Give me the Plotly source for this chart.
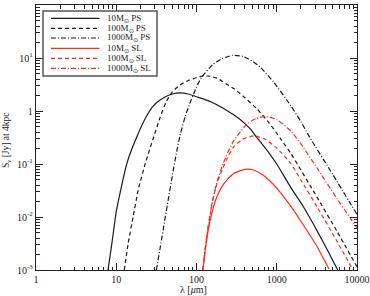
import plotly.graph_objects as go

# ---- data ----
wl_10_ps = [7.9, 8.9, 10, 11.5, 13.5, 15.8, 17.8, 20, 23.7, 28, 32, 40, 50, 63, 79, 100, 126, 158, 200, 250, 290, 350, 410, 480, 560, 790, 1000, 1480, 2140, 3160, 4470, 5750]
s_10_ps = [0.001, 0.0035, 0.0126, 0.035, 0.1, 0.2, 0.31, 0.47, 0.79, 1.17, 1.45, 1.82, 2.09, 2.19, 2.09, 1.86, 1.66, 1.45, 1.2, 0.98, 0.85, 0.69, 0.56, 0.44, 0.32, 0.166, 0.1, 0.037, 0.0158, 0.0056, 0.0021, 0.001]

wl_100_ps = [12.6, 14.1, 16.2, 19, 23.4, 28.8, 35, 42, 50, 62, 80, 110, 140, 180, 214, 300, 380, 560, 800, 1100, 1500, 3160, 5620, 10000]
s_100_ps = [0.001, 0.0032, 0.01, 0.035, 0.112, 0.30, 0.74, 1.51, 2.29, 3.09, 3.8, 4.47, 4.57, 4.17, 3.55, 2.57, 1.91, 1.12, 0.60, 0.31, 0.158, 0.024, 0.0054, 0.00115]

wl_1000_ps = [31.6, 35.5, 39.8, 44.7, 50, 56, 63, 72.4, 80, 100, 115, 158, 209, 282, 380, 510, 630, 910, 1480, 2000, 2570, 5000, 10000]
s_1000_ps = [0.001, 0.0028, 0.0079, 0.0224, 0.060, 0.158, 0.37, 0.79, 1.23, 2.82, 4.27, 7.4, 9.8, 11.2, 10.7, 8.5, 6.6, 3.55, 1.29, 0.63, 0.32, 0.063, 0.0112]

wl_10_sl = [120, 132, 145, 160, 178, 200, 240, 300, 400, 500, 630, 800, 1000, 1500, 2000, 3160, 4470]
s_10_sl = [0.001, 0.0032, 0.0076, 0.0141, 0.0234, 0.034, 0.05, 0.068, 0.079, 0.078, 0.066, 0.05, 0.035, 0.0158, 0.0083, 0.0028, 0.00105]

wl_100_sl = [120, 132, 145, 158, 178, 200, 240, 290, 380, 520, 700, 1000, 1500, 2000, 3160, 5620, 8900]
s_100_sl = [0.001, 0.0035, 0.0089, 0.02, 0.04, 0.066, 0.126, 0.21, 0.295, 0.34, 0.30, 0.2, 0.102, 0.05, 0.0158, 0.0035, 0.001]

wl_1000_sl = [120, 132, 145, 160, 178, 214, 250, 290, 340, 420, 550, 720, 1000, 1500, 2000, 3160, 5620, 10000]
s_1000_sl = [0.001, 0.0036, 0.0095, 0.021, 0.044, 0.1, 0.175, 0.27, 0.38, 0.56, 0.72, 0.79, 0.69, 0.42, 0.24, 0.085, 0.0224, 0.0062]

names = ["10M<sub>⊙</sub> PS", "100M<sub>⊙</sub> PS", "1000M<sub>⊙</sub> PS",
         "10M<sub>⊙</sub> SL", "100M<sub>⊙</sub> SL", "1000M<sub>⊙</sub> SL"]

x_tickvals = [1, 10, 100, 1000, 10000]
x_ticktext = ["1", "10", "100", "1000", "10000"]
y_tickvals = [1e-3, 1e-2, 1e-1, 1, 10, 100]
y_ticktext = ["10<sup>-3</sup>", "10<sup>-2</sup>", "10<sup>-1</sup>", "1", "10<sup>1</sup>", "10<sup>2</sup>"]

BLACK = "#1a1a1a"
RED = "#ff2a1a"
DASH = "4px,3px"
DASHDOT = "5px,2px,1px,2px"

series = [
    (wl_10_ps, s_10_ps, BLACK, "solid"),
    (wl_100_ps, s_100_ps, BLACK, DASH),
    (wl_1000_ps, s_1000_ps, BLACK, DASHDOT),
    (wl_10_sl, s_10_sl, RED, "solid"),
    (wl_100_sl, s_100_sl, RED, DASH),
    (wl_1000_sl, s_1000_sl, RED, DASHDOT),
]

# plot area in pixels (figure 370x296)
L, R, T, B = 36, 13, 5, 26
PW, PH = 370 - L - R, 296 - T - B


def px(xp):
    return (xp - L) / PW


def py(yp):
    return 1 - (yp - T) / PH


FONT = "Liberation Serif"
fig = go.Figure()
for (x, y, c, d), n in zip(series, names):
    fig.add_trace(go.Scatter(x=x, y=y, mode="lines", name=n, showlegend=False, hoverinfo="skip",
                             line=dict(color=c, width=1.2, dash=d, shape="spline", smoothing=0.5)))

# manual legend
shapes = [dict(type="rect", xref="paper", yref="paper", x0=px(43), x1=px(157), y0=py(76), y1=py(11),
               line=dict(color="#555", width=1.5), fillcolor="white", layer="above")]
annotations = []
row_y = [18.3, 28.3, 38.0, 48.3, 58.3, 68.3]
for (x, y, c, d), n, ry in zip(series, names, row_y):
    shapes.append(dict(type="line", xref="paper", yref="paper", x0=px(51), x1=px(99.5), y0=py(ry), y1=py(ry),
                       line=dict(color=c, width=1.2, dash=d), layer="above"))
    annotations.append(dict(xref="paper", yref="paper", x=px(105), y=py(ry), xanchor="left", yanchor="middle",
                            text=n, showarrow=False, font=dict(family=FONT, size=9, color="#222")))

# axis titles
annotations.append(dict(xref="paper", yref="paper", x=px(193), y=py(289), xanchor="center", yanchor="middle",
                        text="λ [<i>μ</i>m]", showarrow=False, font=dict(family=FONT, size=10, color="#222")))
annotations.append(dict(xref="paper", yref="paper", x=px(6), y=py(140), xanchor="center", yanchor="middle",
                        text="S<sub>ν</sub> [Jy] at 4kpc", textangle=-90, showarrow=False,
                        font=dict(family=FONT, size=9.5, color="#222")))


def minor_vals(lo, hi):
    vals = []
    for e in range(lo, hi):
        for m in range(2, 10):
            vals.append(m * 10 ** e)
    return vals


axis_common = dict(type="log", showgrid=False, zeroline=False, showline=True, automargin=False,
                   linecolor="#222", linewidth=1.2, mirror="allticks",
                   ticks="inside", ticklen=7, tickwidth=1, tickcolor="#222",
                   tickfont=dict(family=FONT, size=10, color="#222"))

fig.update_xaxes(range=[0, 4], tickmode="array", tickvals=x_tickvals, ticktext=x_ticktext,
                 minor=dict(tickmode="array", tickvals=minor_vals(0, 4), ticks="inside",
                            ticklen=3.5, tickwidth=1, tickcolor="#222"),
                 **axis_common)
fig.update_yaxes(range=[-3, 2], tickmode="array", tickvals=y_tickvals, ticktext=y_ticktext,
                 minor=dict(tickmode="array", tickvals=minor_vals(-3, 2), ticks="inside",
                            ticklen=3.5, tickwidth=1, tickcolor="#222"),
                 **axis_common)

fig.update_layout(
    width=370, height=296,
    margin=dict(l=L, r=R, t=T, b=B),
    paper_bgcolor="white", plot_bgcolor="white",
    showlegend=False,
    hovermode=False,
    shapes=shapes,
    annotations=annotations,
)

fig.write_html("out.html", config={"displayModeBar": False, "staticPlot": True},
               post_script="document.body.style.margin='0';document.body.style.overflow='hidden';")
